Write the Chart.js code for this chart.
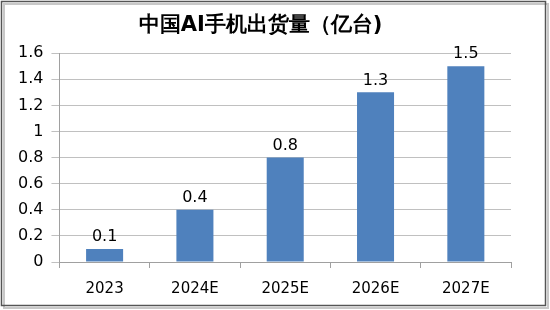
<!DOCTYPE html>
<html>
<head>
<meta charset="utf-8">
<script src="https://cdn.jsdelivr.net/npm/chart.js@4"></script>
<style>
  html, body { margin: 0; padding: 0; background: #fff; }
  #wrap { width: 550px; height: 310px; position: relative; }
</style>
</head>
<body>
<div id="wrap"><canvas id="myChart" width="550" height="310"></canvas></div>
<script>
const labels = ['2023', '2024E', '2025E', '2026E', '2027E'];
const shipments = [0.1, 0.4, 0.8, 1.3, 1.5];
const yTicks = [0, 0.2, 0.4, 0.6, 0.8, 1, 1.2, 1.4, 1.6];

const fontName = '"DejaVu Sans", Verdana, sans-serif';

// frame around the chart
const frame = {
    id: 'frame',
    beforeDraw(chart) {
        const ctx = chart.ctx;
        ctx.save();
        ctx.fillStyle = '#fff';
        ctx.fillRect(0, 0, chart.width, chart.height);
        ctx.strokeStyle = '#c8c8c8';
        ctx.lineWidth = 2;
        ctx.strokeRect(4, 4, chart.width - 6, chart.height - 6);
        ctx.strokeStyle = '#555';
        ctx.lineWidth = 1.5;
        ctx.strokeRect(1.5, 1.5, chart.width - 6, chart.height - 6);
        ctx.restore();
    }
};

// value labels above bars
const barValues = {
    id: 'barValues',
    afterDatasetsDraw(chart) {
        const ctx = chart.ctx;
        const meta = chart.getDatasetMeta(0);
        ctx.save();
        ctx.font = '16px ' + fontName;
        ctx.fillStyle = '#000';
        ctx.textAlign = 'center';
        ctx.textBaseline = 'bottom';
        meta.data.forEach((bar, i) => {
            ctx.fillText(String(shipments[i]), bar.x, bar.y - 4);
        });
        ctx.restore();
    }
};

const data = {
    labels: labels,
    datasets: [{
        data: shipments,
        backgroundColor: '#4f81bd',
        borderWidth: 0,
        categoryPercentage: 1,
        barPercentage: 0.41
    }]
};

const config = {
    type: 'bar',
    data: data,
    options: {
        responsive: false,
        animation: false,
        layout: { padding: { left: 10, right: 39, top: 0, bottom: 0 } },
        plugins: {
            legend: { display: false },
            tooltip: { enabled: false },
            title: {
                display: true,
                text: '中国AI手机出货量（亿台)',
                color: '#000',
                font: { family: fontName, size: 21, weight: 'bold' },
                padding: { top: 13, bottom: 15 }
            }
        },
        scales: {
            y: {
                min: 0,
                max: 1.6,
                afterBuildTicks(axis) {
                    axis.ticks = yTicks.map(v => ({ value: v }));
                },
                grid: {
                    color: '#c0c0c0',
                    tickLength: 8,
                    drawTicks: true
                },
                border: { display: true, color: '#a0a0a0' },
                ticks: {
                    color: '#000',
                    padding: 8,
                    font: { family: fontName, size: 16 },
                    callback: v => String(v)
                }
            },
            x: {
                grid: {
                    offset: true,
                    drawOnChartArea: false,
                    tickLength: 6,
                    color: '#a0a0a0'
                },
                border: { display: true, color: '#a0a0a0' },
                ticks: {
                    color: '#000',
                    padding: 12,
                    font: { family: fontName, size: 15 }
                }
            }
        }
    },
    plugins: [frame, barValues]
};

const myChart = new Chart(document.getElementById('myChart'), config);
</script>
</body>
</html>
